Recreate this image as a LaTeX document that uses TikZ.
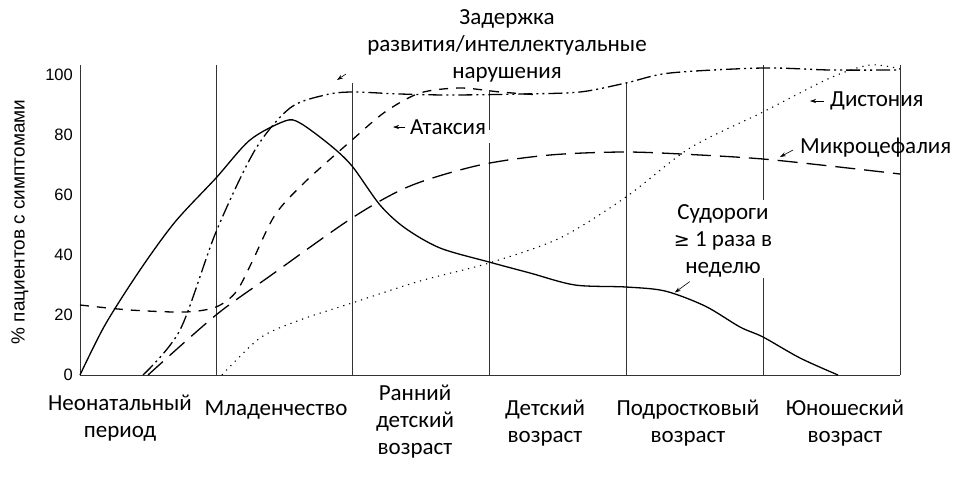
\documentclass[tikz,border=0pt]{standalone}
\usepackage{fontspec}
\setmainfont{Carlito}
\newfontfamily\axf{Liberation Sans}
\usetikzlibrary{arrows.meta}
\begin{document}
\begin{tikzpicture}[x=1pt,y=-1pt,
  grid/.style={line width=0.6pt,black!80},
  crv/.style={line width=1.3pt,smooth,tension=0.5},
  lbl/.style={font=\fontsize{23}{27}\selectfont,align=center,inner sep=0pt},
  tick/.style={font=\axf\fontsize{16.5}{18}\selectfont,anchor=east,inner sep=0pt},
  pt/.style={-{Stealth[length=6pt,width=4pt]},line width=0.6pt}]
\useasboundingbox (0,0) rectangle (959,480);
% grid
\draw[grid] (80,65)--(80,375)--(900,375);
\draw[grid] (216,65)--(216,375);
\draw[grid] (352,83)--(352,375);
\draw[grid] (489,90)--(489,130) (489,143)--(489,375);
\draw[grid] (626,83)--(626,375);
\draw[grid] (763,65)--(763,200) (763,278)--(763,375);
\draw[grid] (900,65)--(900,375);
% ticks
\foreach \v in {0,20,40,60,80,100}{\node[tick] (t\v) at (73,{375-3*\v}) {\v};}
\node[font=\axf\fontsize{19}{22}\selectfont,rotate=90] (yl) at (20,222) {\% пациентов с симптомами};
% curves
\draw[crv] plot coordinates {(80,375)(105,325)(140,270)(175,222)(216,178)(250,140)(285,121)(300,123)(330,145)(352,166)(380,205)(405,228)(440,248)(489,262)(530,273)(575,285)(626,287)(665,291)(705,306)(740,327)(763,337)(800,358)(838,375)};
\draw[crv,dash pattern=on 20pt off 9pt] plot coordinates {(148,375)(216,315)(270,276)(352,218)(410,186)(480,165)(550,155)(626,152)(700,155)(763,159)(830,166)(900,174)};
\draw[crv,dash pattern=on 14pt off 4pt on 2pt off 4pt on 2pt off 4pt] plot coordinates {(143,375)(180,330)(216,232)(255,150)(290,108)(325,95)(352,92)(400,94)(450,95)(523,94)(580,92)(626,83)(670,73)(763,68)(830,70)(900,70)};
\draw[crv,dash pattern=on 9pt off 8pt] plot coordinates {(80,305)(130,310)(185,312)(216,307)(236,292)(252,262)(275,215)(305,182)(352,140)(385,112)(420,93)(460,88)(500,92)(540,95)};
\draw[crv,line width=1.1pt,dash pattern=on 1.2pt off 5pt] plot coordinates {(222,375)(260,338)(300,320)(352,303)(420,281)(489,263)(560,238)(626,197)(690,148)(763,112)(830,78)(870,65)(900,69)};
% labels
\node[lbl] (dd) at (507,46) {Задержка\\развития/интеллектуальные\\нарушения};
\coordinate (dda) at (346,74);
\draw[pt] (dda) -- ++(-9,6);
\node[lbl,anchor=west] (at) at (410,127) {Атаксия};
\draw[pt] (at.west) ++(-5,0) -- ++(-12,0);
\node[lbl,anchor=west] (ds) at (830,101) {Дистония};
\draw[pt] (ds.west) ++(-6,0) -- ++(-14,0);
\node[lbl,anchor=west] (mc) at (800,148) {Микроцефалия};
\draw[pt] (mc.west) ++(-7,2) -- ++(-13,7);
\node[lbl] (sz) at (723,241) {Судороги\\{\fontspec{DejaVu Sans}\fontsize{19}{22}\selectfont≥} 1 раза в\\неделю};
\draw[pt] (sz.south west) ++(16,4) -- ++(-15,11);
\node[lbl] (x1) at (120,418) {Неонатальный\\период};
\node[lbl] (x2) at (276,410) {Младенчество};
\node[lbl] (x3) at (415,422) {Ранний\\детский\\возраст};
\node[lbl] (x4) at (545,423) {Детский\\возраст};
\node[lbl] (x5) at (688,423) {Подростковый\\возраст};
\node[lbl] (x6) at (845,423) {Юношеский\\возраст};
\end{tikzpicture}
\end{document}
